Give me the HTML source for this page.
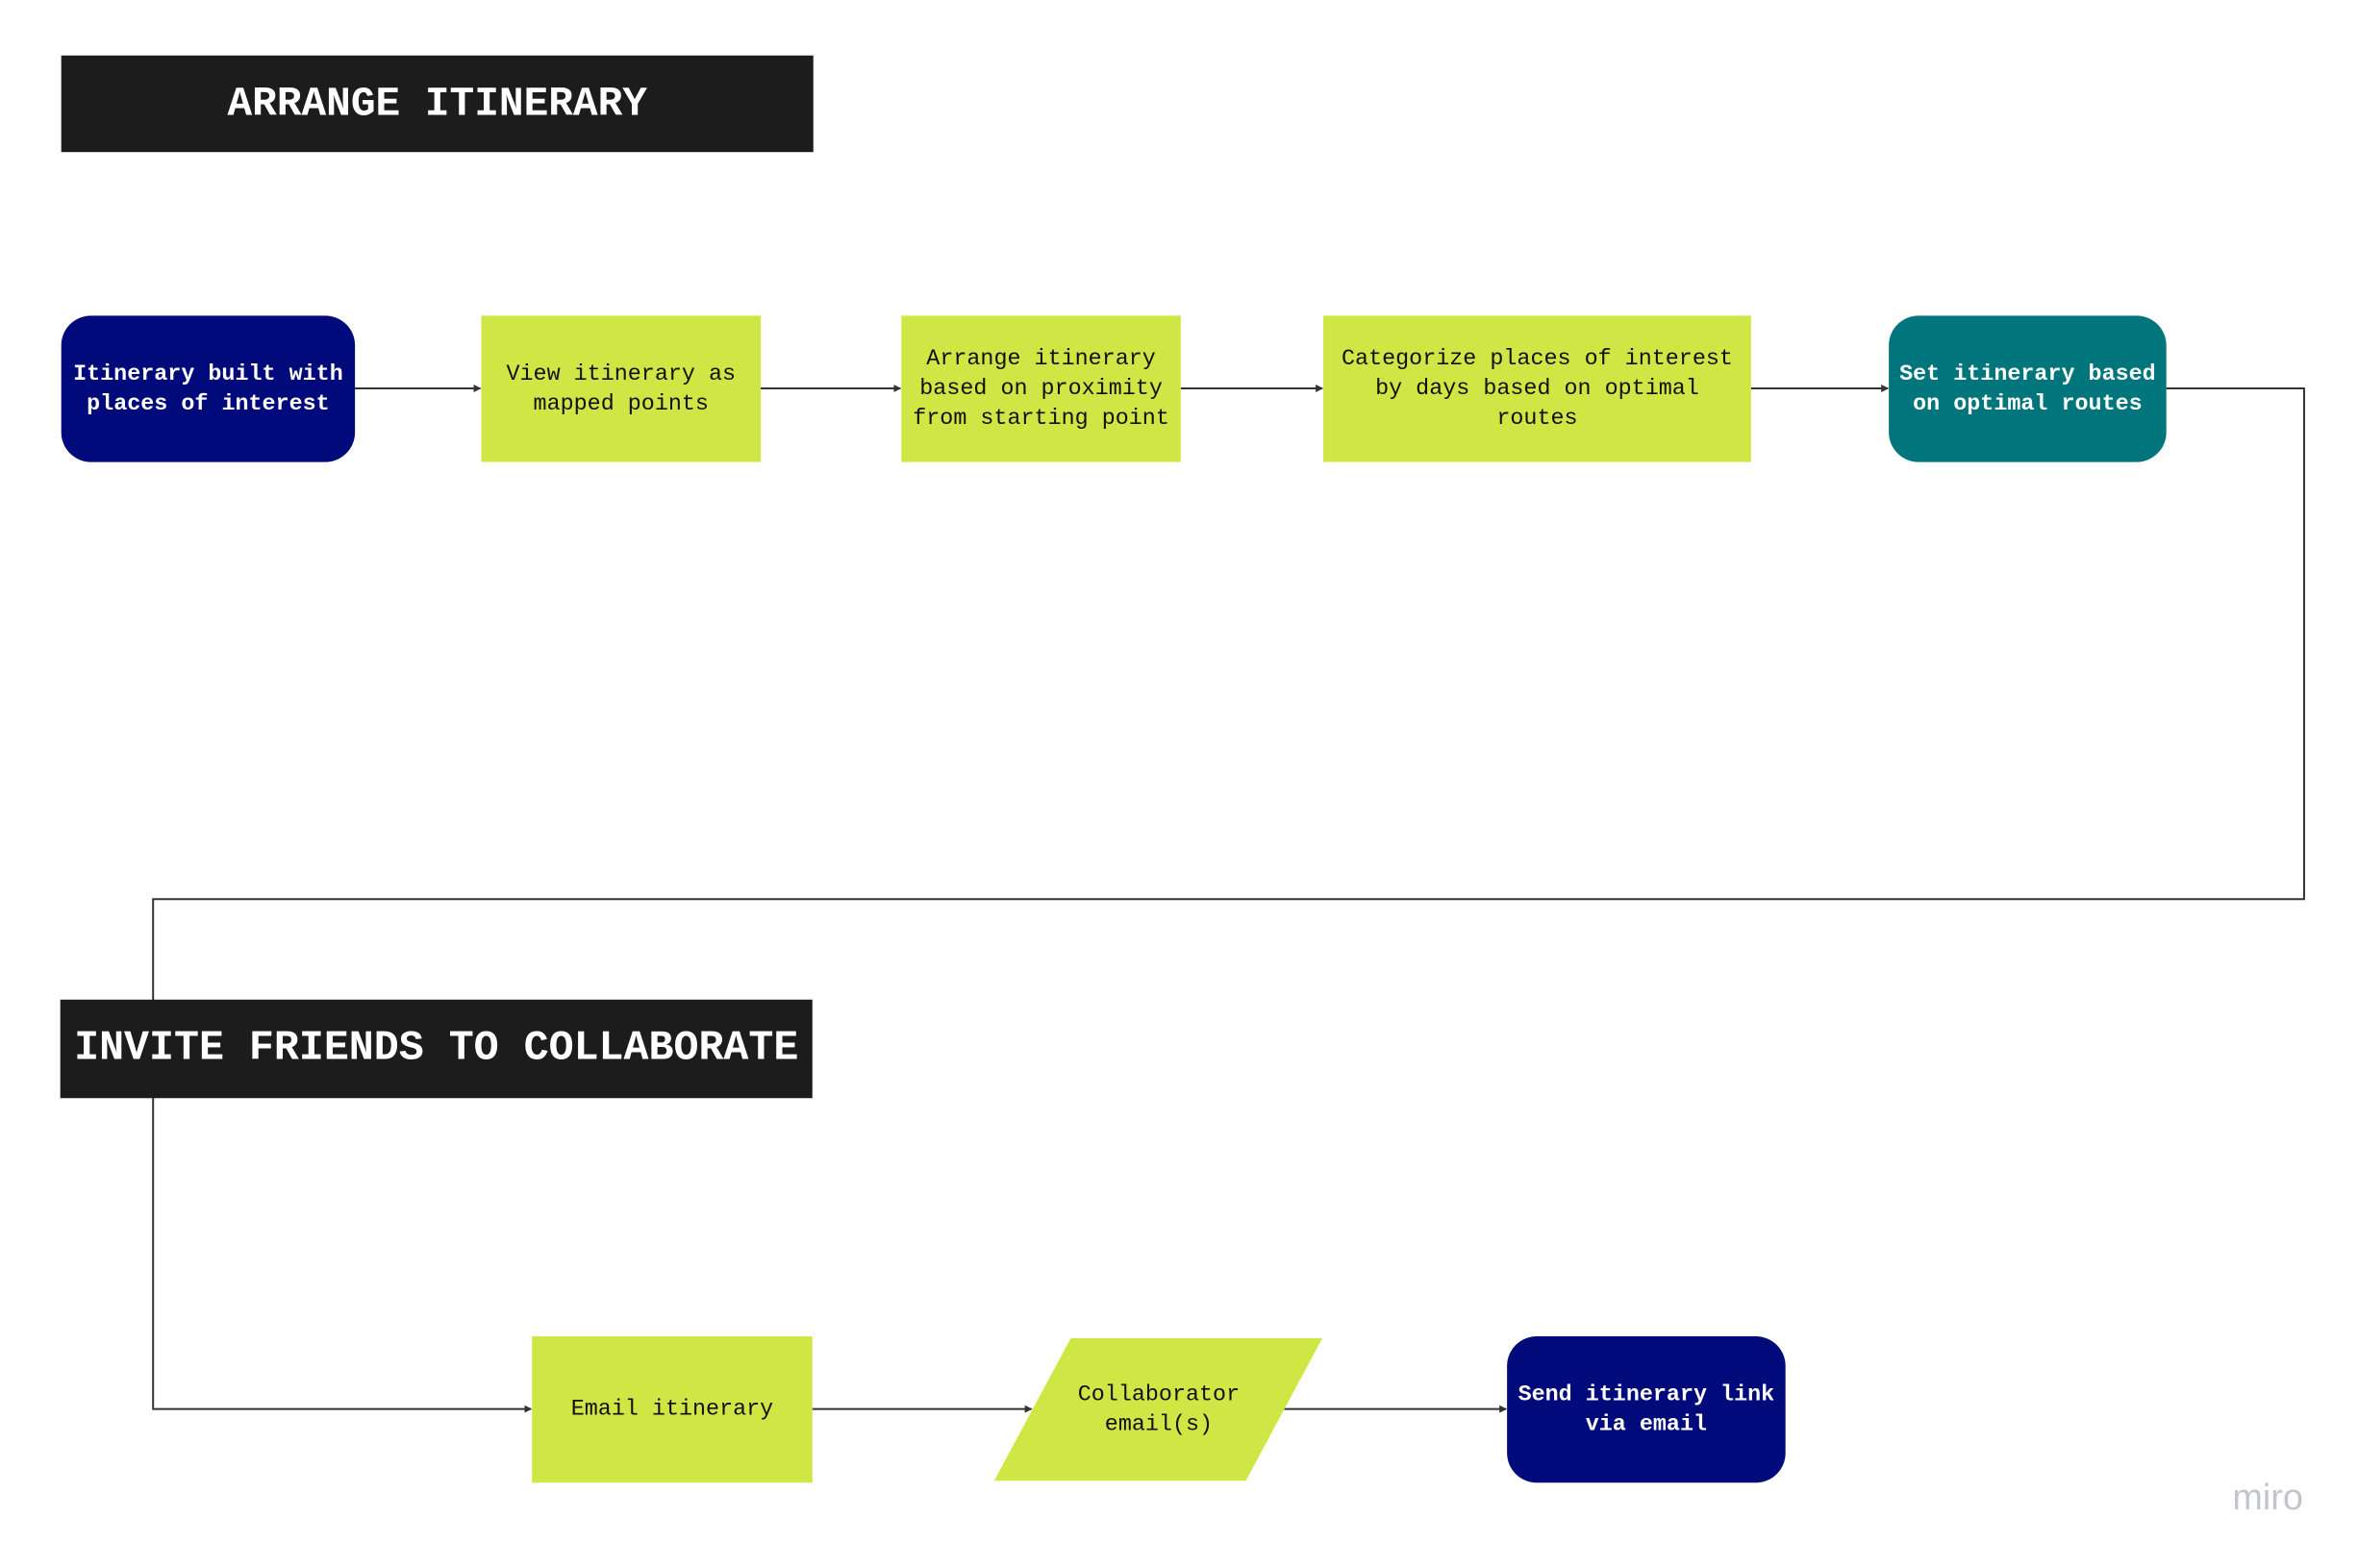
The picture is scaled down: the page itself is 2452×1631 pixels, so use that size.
<!DOCTYPE html>
<html><head><meta charset="utf-8"><style>
html,body{margin:0;padding:0;background:#fff;}
body{width:2452px;height:1631px;position:relative;overflow:hidden;font-family:"Liberation Mono","DejaVu Sans Mono",monospace;}
#w{position:absolute;left:0;top:0;width:2452px;height:1631px;transform:scale(0.995);transform-origin:0 0;}
.n{position:absolute;display:flex;align-items:center;justify-content:center;text-align:center;font-size:23.5px;line-height:31px;box-sizing:border-box;padding:0 8px;}
.lime{background:#cfe744;color:#111;}
.navy{background:#000a7a;color:#fff;border-radius:31px;font-weight:bold;}
.teal{background:#00767c;color:#fff;border-radius:31px;font-weight:bold;}
.t{position:absolute;background:#1c1c1c;color:#fff;font-weight:bold;display:flex;align-items:center;justify-content:center;font-size:43px;}
svg{position:absolute;left:0;top:0;}
</style></head><body><div id="w">
<svg width="2452" height="1631">
<defs><marker id="a" markerWidth="8" markerHeight="8" refX="7" refY="4" orient="auto" markerUnits="userSpaceOnUse"><path d="M0,0 L8,4 L0,8 z" fill="#333"/></marker></defs>
<g stroke="#333" stroke-width="2" fill="none">
<line x1="371" y1="406" x2="502" y2="406" marker-end="url(#a)"/>
<line x1="795" y1="406" x2="941" y2="406" marker-end="url(#a)"/>
<line x1="1234" y1="406" x2="1382" y2="406" marker-end="url(#a)"/>
<line x1="1830" y1="406" x2="1973" y2="406" marker-end="url(#a)"/>
<polyline points="2264,406 2408,406 2408,940 160,940 160,1473 555,1473" marker-end="url(#a)"/>
<line x1="849" y1="1473" x2="1078" y2="1473" marker-end="url(#a)"/>
<line x1="1342" y1="1473" x2="1574" y2="1473" marker-end="url(#a)"/>
</g>
<polygon points="1119,1399 1382,1399 1302,1548 1039,1548" fill="#cfe744"/>
<text x="2370" y="1578" font-family="Liberation Sans, sans-serif" font-size="38" fill="#c4c4cc" text-anchor="middle">miro</text>
</svg>
<div class="t" style="left:64px;top:58px;width:786px;height:101px;">ARRANGE ITINERARY</div>
<div class="t" style="left:63px;top:1045px;width:786px;height:103px;font-size:43.5px;">INVITE FRIENDS TO COLLABORATE</div>
<div class="n navy" style="left:64px;top:330px;width:307px;height:153px;">Itinerary built with places of interest</div>
<div class="n lime" style="left:503px;top:330px;width:292px;height:153px;">View itinerary as mapped points</div>
<div class="n lime" style="left:942px;top:330px;width:292px;height:153px;">Arrange itinerary based on proximity from starting point</div>
<div class="n lime" style="left:1383px;top:330px;width:447px;height:153px;">Categorize places of interest by days based on optimal routes</div>
<div class="n teal" style="left:1974px;top:330px;width:290px;height:153px;">Set itinerary based on optimal routes</div>
<div class="n lime" style="left:556px;top:1397px;width:293px;height:153px;">Email itinerary</div>
<div class="n" style="left:1090px;top:1399px;width:242px;height:149px;color:#111;">Collaborator email(s)</div>
<div class="n navy" style="left:1575px;top:1397px;width:291px;height:153px;">Send itinerary link via email</div>
</div></body></html>
